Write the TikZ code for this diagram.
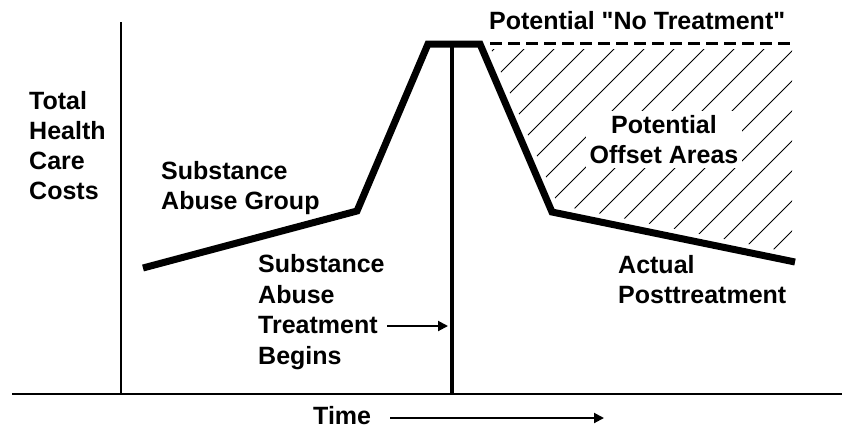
\documentclass[tikz,border=0pt]{standalone}
\usepackage{fontspec}
\newfontfamily\labelfont{Liberation Sans}
\usepackage{tikz}
\usetikzlibrary{arrows.meta}
\tikzset{
  lbl/.style={font=\labelfont\fontsize{25}{30}\selectfont\bfseries, inner sep=0pt, align=left, anchor=north west},
  costline/.style={line width=7pt, line join=miter},
  axisline/.style={line width=1.5pt},
  hatchline/.style={line width=0.9pt},
  pointer/.style={line width=2pt, -{Triangle[length=10pt,width=10pt]}}
}

\begin{document}
\begin{tikzpicture}[x=1pt, y=-1pt]
\useasboundingbox (0,0) rectangle (842,429);

% axes
\coordinate (ytop) at (121,22);
\coordinate (ybot) at (121,394);
\coordinate (xleft) at (12,394);
\coordinate (xright) at (842,394);
\draw[axisline] (ytop) -- (ybot);
\draw[axisline] (xleft) -- (xright);

% cost curve
\coordinate (c1) at (143,268);
\coordinate (c2) at (357,211);
\coordinate (c3) at (428,44);
\coordinate (c4) at (480,44);
\coordinate (c5) at (552,212);
\coordinate (c6) at (795,262);

% offset area
\begin{scope}
\clip (491,49) -- (792,49) -- (792,253) -- (558,205) -- cycle;
\foreach \c in {543,573,...,1083}
  \draw[hatchline] (\c-300,300) -- (\c,0);
\end{scope}
\node[lbl, align=center, anchor=north, fill=white, inner sep=4pt] (offset) at (664,111) {Potential\\Offset Areas};

\coordinate (dstart) at (490,43);
\coordinate (dend) at (795,43);
\draw[line width=3pt, dash pattern=on 12pt off 6pt] (dstart) -- (dend);

\coordinate (tline) at (452,44);
\draw[line width=3.5pt] (tline) -- (tline |- ybot);

\draw[costline] (c1) -- (c2) -- (c3) -- (c4) -- (c5) -- (c6);

% labels
\node[lbl] (costs) at (29,91) {Total\\Health\\Care\\Costs};
\node[lbl] (group) at (161,161) {Substance\\Abuse Group};
\node[lbl, font=\labelfont\fontsize{25}{30.7}\selectfont\bfseries] (begins) at (258,254) {Substance\\Abuse\\Treatment\\Begins};
\node[lbl] (notreat) at (489,11) {Potential "No Treatment"};
\node[lbl] (actual) at (618,255) {Actual\\Posttreatment};
\node[lbl] (time) at (313,406) {Time};

% arrows
\coordinate (bstart) at (387,326);
\coordinate (bend) at (448,326);
\draw[pointer] (bstart) -- (bend);
\coordinate (tstart) at (390,418);
\coordinate (tend) at (604,418);
\draw[pointer] (tstart) -- (tend);
\end{tikzpicture}
\end{document}
